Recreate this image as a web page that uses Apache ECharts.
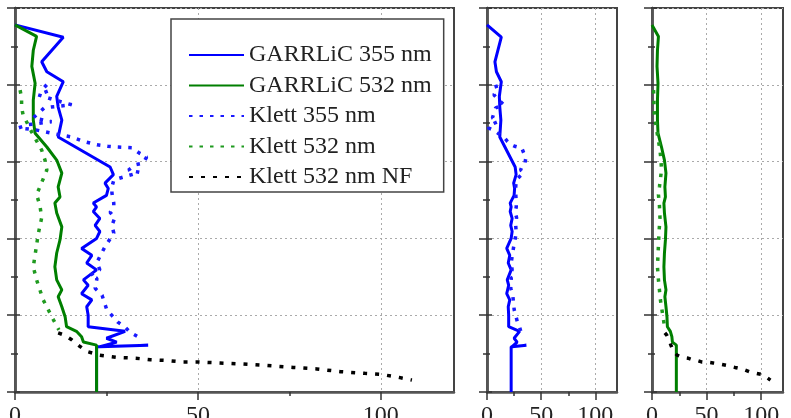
<!DOCTYPE html>
<html>
<head>
<meta charset="utf-8">
<script src="https://cdn.jsdelivr.net/npm/echarts@6/dist/echarts.min.js"></script>
<style>
  html, body { margin: 0; padding: 0; background: #fff; }
  #chart { width: 791px; height: 418px; }
</style>
</head>
<body>
<div id="chart"></div>
<script>
// profiles: [value, altitude]
const garrlic355 = [
  [0, 4.78], [13.2, 4.62], [7.3, 4.30], [8.7, 4.17], [13.2, 4.04], [11.4, 3.85],
  [11.8, 3.71], [12.8, 3.54], [11.8, 3.32], [26.0, 2.93], [26.9, 2.83], [24.6, 2.72],
  [25.5, 2.65], [25.0, 2.56], [21.4, 2.46], [22.3, 2.41], [21.4, 2.35], [23.2, 2.26],
  [21.9, 2.17], [23.2, 2.09], [22.3, 2.0], [18.2, 1.87], [21.0, 1.78], [19.6, 1.68],
  [22.3, 1.59], [18.7, 1.46], [20.0, 1.39], [18.2, 1.28], [21.0, 1.20], [19.6, 1.11],
  [20.0, 1.00], [20.0, 0.85], [30.1, 0.79], [25.0, 0.70], [27.8, 0.65], [23.2, 0.59],
  [36.4, 0.61], [22.3, 0.59], [22.3, 0]
];
const garrlic532 = [
  [0, 4.78], [5.9, 4.63], [5.0, 4.45], [4.6, 4.24], [5.5, 4.02], [5.0, 3.80],
  [5.0, 3.54], [5.5, 3.37], [8.7, 3.19], [11.4, 3.02], [12.8, 2.85], [11.8, 2.67],
  [12.3, 2.54], [10.9, 2.46], [11.4, 2.33], [12.8, 2.15], [12.3, 1.98], [11.4, 1.81],
  [10.9, 1.63], [11.4, 1.46], [12.8, 1.33], [11.8, 1.24], [12.8, 1.11], [13.7, 0.98],
  [14.1, 0.85], [16.8, 0.79], [18.2, 0.72], [18.7, 0.65], [22.3, 0.61], [22.3, 0]
];
const klett355 = [
  [8, 4.00], [9.6, 3.93], [6.3, 3.87], [11, 3.80], [15.5, 3.74], [8, 3.70],
  [5, 3.57], [10, 3.52], [3.5, 3.48], [1, 3.44], [6, 3.41], [10, 3.37],
  [15.5, 3.32], [19, 3.26], [22.4, 3.22], [25.4, 3.20], [28, 3.19], [32, 3.18],
  [34, 3.11], [36, 3.06], [35, 2.98], [33, 2.96], [31, 2.89], [34, 2.86],
  [29, 2.79], [27, 2.76], [26.5, 2.67], [26.5, 2.59], [27, 2.46], [27, 2.41],
  [26, 2.34], [27.3, 2.27], [26.5, 2.17], [27, 2.07], [24.6, 1.89], [23.8, 1.82],
  [22.4, 1.69], [23.2, 1.59], [20.5, 1.52], [22.4, 1.48], [21.9, 1.35], [23.8, 1.26],
  [25.1, 1.07], [26.8, 0.98], [28.1, 0.91], [30, 0.85], [31.4, 0.78], [33.6, 0.72]
];
const klett532 = [
  [1.4, 3.93], [1.8, 3.83], [1.8, 3.71], [2.2, 3.61], [4.5, 3.39], [7.3, 3.15],
  [8.2, 3.02], [8.7, 2.89], [6.8, 2.67], [5.9, 2.57], [6.8, 2.43], [7.3, 2.27],
  [6.4, 2.07], [5.0, 1.63], [5.9, 1.46], [6.8, 1.33], [7.7, 1.20], [9.1, 1.07],
  [10.5, 0.94], [12, 0.81]
];
const klett532NF = [
  [11.8, 0.77], [13.5, 0.74], [15.5, 0.68], [17.3, 0.61], [19.5, 0.53], [23, 0.48],
  [28, 0.45], [33, 0.44], [37, 0.42], [41.5, 0.41], [46, 0.39], [50, 0.39],
  [56, 0.378], [62, 0.365], [69, 0.345], [76, 0.32], [82.5, 0.30], [89, 0.265],
  [95.6, 0.243], [100, 0.23], [105, 0.19], [108.5, 0.155]
];
const seriesNames = ['GARRLiC 355 nm', 'GARRLiC 532 nm', 'Klett 355 nm', 'Klett 532 nm', 'Klett 532 nm NF'];
const xTicks = [0, 50, 100];
const xMinorTicks = [25, 75];

const chart = echarts.init(document.getElementById('chart'));

const panels = [
  { left: 15, width: 439, shows: [0, 1, 2, 3, 4] },
  { left: 487, width: 130, shows: [0, 2] },
  { left: 652, width: 131, shows: [1, 3, 4] }
];
const profiles = [garrlic355, garrlic532, klett355, klett532, klett532NF];
const styles = [
  { color: '#0000ff', width: 3, type: 'solid' },
  { color: '#007f00', width: 3, type: 'solid' },
  { color: '#1a1aff', width: 3.5, type: [3.5, 7] },
  { color: '#1f9a1f', width: 3.5, type: [3.5, 7] },
  { color: '#000000', width: 3.5, type: [4, 8] }
];

const axisColor = '#555';
const gridLine = { show: true, lineStyle: { color: '#aaa', type: [2, 3], width: 1 } };
const labelFont = { fontFamily: 'Liberation Serif', fontSize: 24, color: '#222' };

const grid = [], xAxis = [], yAxis = [], series = [];
panels.forEach((p, i) => {
  grid.push({
    left: p.left, top: 8, width: p.width, height: 384,
    outerBoundsMode: 'none', containLabel: false,
    show: true, borderColor: '#444', borderWidth: 2
  });
  xAxis.push({
    type: 'value', gridIndex: i, min: 0, max: 120, interval: 50,
    axisLine: { show: true, lineStyle: { color: axisColor, width: 2.5 } },
    axisTick: { show: true, length: 8, customValues: xTicks, lineStyle: { color: '#333', width: 1.5 } },
    axisLabel: Object.assign({ show: true, margin: 12, customValues: xTicks }, labelFont),
    splitLine: gridLine
  });
  xAxis.push({
    type: 'value', gridIndex: i, min: 0, max: 120, position: 'bottom',
    axisLine: { show: false },
    axisTick: { show: true, length: 4, customValues: xMinorTicks, lineStyle: { color: '#333', width: 1.5 } },
    axisLabel: { show: false },
    splitLine: { show: false }
  });
  yAxis.push({
    type: 'value', gridIndex: i, min: 0, max: 5, interval: 1,
    axisLine: { show: true, lineStyle: { color: axisColor, width: 2.5 } },
    axisTick: { show: true, length: 8, lineStyle: { color: '#333', width: 1.5 } },
    minorTick: { show: true, splitNumber: 2, length: 4, lineStyle: { color: '#333', width: 1.5 } },
    axisLabel: { show: false },
    splitLine: gridLine
  });
  yAxis.push({
    type: 'value', gridIndex: i, min: 0, max: 5, interval: 1, position: 'right',
    axisLine: { show: true, lineStyle: { color: axisColor, width: 2.5 } },
    axisTick: { show: true, length: 5, lineStyle: { color: '#333', width: 1.5 } },
    minorTick: { show: true, splitNumber: 2, length: 3, lineStyle: { color: '#333', width: 1.5 } },
    axisLabel: { show: false },
    splitLine: { show: false }
  });
  p.shows.forEach(k => {
    series.push({
      name: seriesNames[k], type: 'line',
      xAxisIndex: 2 * i, yAxisIndex: 2 * i,
      data: profiles[k], showSymbol: false, symbol: 'none',
      lineStyle: styles[k], itemStyle: { color: styles[k].color },
      z: k < 2 ? 2 : 3
    });
  });
});

const option = {
  animation: false,
  backgroundColor: '#fff',
  legend: {
    data: seriesNames, orient: 'vertical', left: 171, top: 19,
    backgroundColor: '#fff', borderColor: '#444', borderWidth: 1.5,
    padding: [24, 12, 3, 17], itemGap: 6.5, itemWidth: 55, itemHeight: 24,
    itemStyle: { opacity: 0 },
    selectedMode: false, textStyle: labelFont, z: 10
  },
  grid, xAxis, yAxis, series
};
chart.setOption(option);
</script>
</body>
</html>
